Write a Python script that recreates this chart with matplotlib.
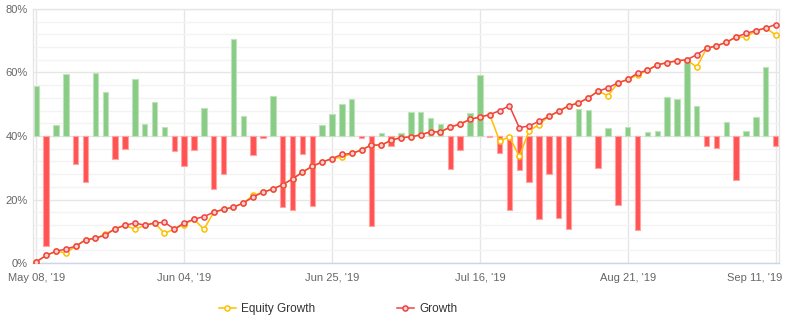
import matplotlib
matplotlib.use('Agg')
import matplotlib.pyplot as plt
import matplotlib.transforms as mtransforms
from matplotlib.ticker import MultipleLocator, FuncFormatter
import numpy as np

plt.rcParams['font.family'] = ['Liberation Sans', 'DejaVu Sans']

# daily result bars, drawn from the 40% baseline
bar_offsets = [15.6, -34.7, 3.6, 19.4, -8.7, -14.4, 19.8, 14.0, -7.2, -4.0, 17.8, 3.9, 10.8,
               2.9, -4.6, -9.4, -4.3, 8.7, -16.6, -11.9, 30.4, 6.4, -5.9, -0.6, 12.7, -22.3,
               -23.3, -5.6, -22.0, 3.6, 7.0, 10.2, 11.6, -0.5, -28.3, 1.0, -3.3, 1.0, 7.7,
               7.7, 5.8, 3.9, -10.3, -4.3, 7.1, 19.1, -0.4, -5.3, -23.3, -10.6, -14.4,
               -26.1, -12.1, -25.8, -29.3, 8.6, 8.3, -10.0, 2.6, -21.7, 2.9, -29.6, 1.4, 1.7,
               12.4, 11.6, 23.9, 9.6, -3.1, -3.7, 4.5, -13.8, 1.7, 6.1, 21.6, -3.1]
bar_baseline = 40

growth = [0.4, 2.4, 3.7, 4.4, 5.3, 7.3, 7.8, 8.8, 10.8, 11.9, 12.6, 11.9, 12.6,
          12.8, 10.7, 12.6, 13.8, 14.6, 16.0, 16.9, 17.6, 18.9, 20.8, 22.3, 23.3, 24.7,
          26.5, 28.6, 30.5, 31.8, 32.9, 34.2, 34.5, 35.6, 37.2, 37.1, 38.7, 39.5, 39.7,
          40.4, 41.3, 41.3, 42.8, 43.8, 45.2, 46.0, 46.7, 48.0, 49.5, 42.6, 43.2,
          44.6, 46.2, 47.8, 49.5, 50.4, 52.0, 54.1, 55.2, 56.7, 57.8, 59.8, 60.7, 62.4,
          63.1, 63.7, 64.0, 65.6, 67.6, 68.4, 69.5, 71.2, 72.3, 73.2, 74.0, 75.1]

equity = [0.4, 2.4, 3.7, 3.2, 5.3, 7.3, 7.8, 9.1, 10.8, 11.9, 10.6, 11.9, 12.6,
          9.3, 10.7, 12.1, 13.8, 10.6, 16.0, 16.9, 17.6, 18.9, 21.3, 22.3, 23.3, 24.7,
          26.5, 28.6, 30.5, 31.8, 32.9, 33.3, 34.5, 35.6, 37.2, 37.1, 38.7, 39.5, 39.7,
          40.4, 41.3, 41.3, 42.8, 43.8, 45.2, 46.0, 46.7, 38.5, 39.7, 33.6, 41.6,
          43.6, 46.2, 47.8, 49.5, 50.4, 52.0, 54.1, 52.7, 56.7, 57.8, 59.2, 60.7, 62.4,
          63.1, 63.7, 64.0, 61.7, 67.6, 68.4, 69.5, 71.2, 71.1, 73.2, 74.0, 71.9]

tick_pos = [0, 15, 30, 45, 60, 75]
tick_labels = ["May 08, '19", "Jun 04, '19", "Jun 25, '19", "Jul 16, '19", "Aug 21, '19", "Sep 11, '19"]

x = np.arange(len(growth))

fig = plt.figure(figsize=(7.85, 3.27), dpi=100)
ax = fig.add_axes([33 / 785, 1 - 263 / 327, (779 - 33) / 785, (263 - 9) / 327])

offs = np.array(bar_offsets)
cols = ['#88cc85' if v >= 0 else '#ff5252' for v in offs]
edges = ['#bfe3bd' if v >= 0 else '#ffa3a3' for v in offs]
ax.bar(x, offs, bottom=bar_baseline, width=0.55, color=cols, edgecolor=edges, linewidth=0.8, zorder=2)

ax.plot(x, equity, color='#ffbf00', lw=1.1, marker='o', markersize=3.7,
        markerfacecolor='white', markeredgecolor='#ffbf00', markeredgewidth=1.1,
        label='Equity Growth', zorder=3)
ax.plot(x, growth, color='#ee4444', lw=1.1, marker='o', markersize=3.7,
        markerfacecolor='#ffd0d0', markeredgecolor='#ee4444', markeredgewidth=1.1,
        label='Growth', zorder=4)

ax.set_xlim(-0.34, 75.35)
ax.set_ylim(0, 80)
ax.yaxis.set_major_locator(MultipleLocator(20))
ax.yaxis.set_minor_locator(MultipleLocator(4))
ax.yaxis.set_major_formatter(FuncFormatter(lambda v, p: '%d%%' % v))
ax.set_xticks(tick_pos)
ax.set_xticklabels(tick_labels)

ax.grid(which='major', axis='both', color='#e6e6e6', lw=1, zorder=0)
ax.grid(which='minor', axis='y', color='#f3f3f3', lw=1, zorder=0)
ax.set_axisbelow(True)

for s in ['left', 'right', 'top']:
    ax.spines[s].set_color('#e6e6e6')
    ax.spines[s].set_linewidth(1)
ax.spines['bottom'].set_color('#ccd6eb')
ax.spines['bottom'].set_linewidth(1)

ax.tick_params(axis='both', which='both', length=0, labelsize=8, labelcolor='#666666')
ax.tick_params(axis='x', pad=7)
ax.tick_params(axis='y', pad=4)

# last date label is pushed left so it stays inside the picture
last = ax.get_xticklabels()[-1]
last.set_transform(last.get_transform() + mtransforms.ScaledTranslation(-21 / 100, 0, fig.dpi_scale_trans))

fig.legend(loc='center', bbox_to_anchor=(338 / 785, 1 - 309 / 327), ncol=2, frameon=False,
           fontsize=8.5, handlelength=1.45, handletextpad=0.45, columnspacing=6.9,
           numpoints=1, labelcolor='#333333')

plt.savefig('out.png', dpi=100)
